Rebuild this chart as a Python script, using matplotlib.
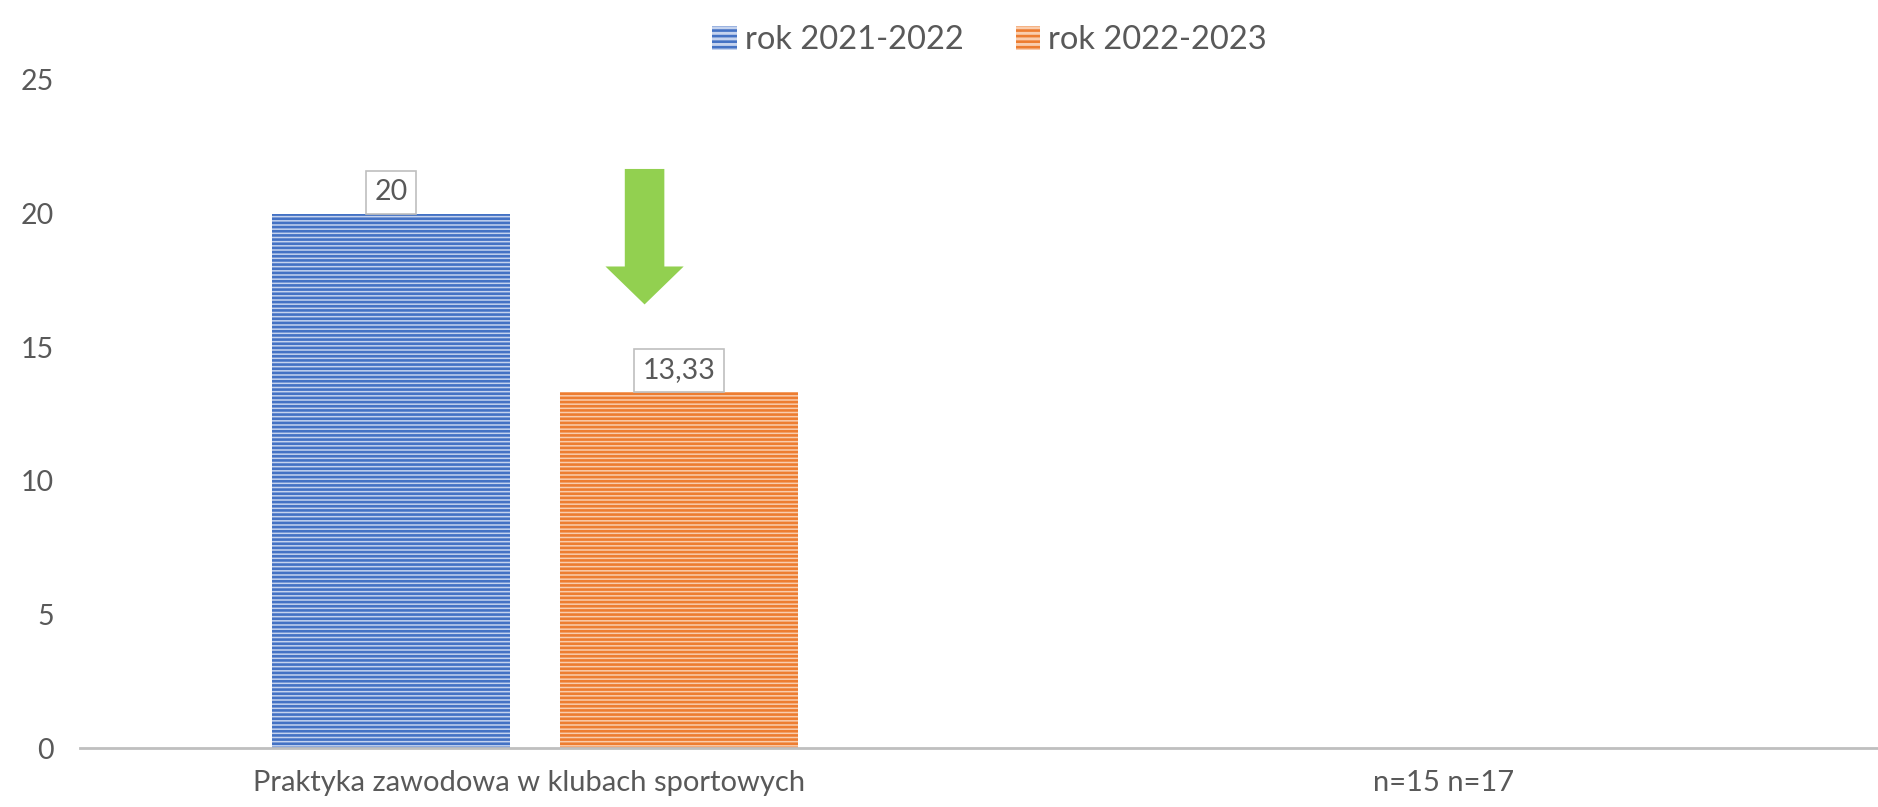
import matplotlib
matplotlib.use("Agg")
import matplotlib.pyplot as plt
from matplotlib.patches import Patch, FancyArrow
import numpy as np

plt.rcParams['font.family'] = ['Lato', 'DejaVu Sans']
plt.rcParams['hatch.linewidth'] = 1.9

categories = ["Praktyka zawodowa w klubach sportowych", "    n=15 n=17"]
series_names = ["rok 2021-2022", "rok 2022-2023"]
values_2122 = [20, np.nan]
values_2223 = [13.33, np.nan]
value_labels_2122 = ["20", ""]
value_labels_2223 = ["13,33", ""]
yticks = [0, 5, 10, 15, 20, 25]

blue = '#4472C4'
orange = '#ED7D31'
blue_light = '#C5D3EE'
orange_light = '#F9CDAE'
text_col = '#595959'

fig = plt.figure(figsize=(18.78, 8.07), dpi=100)
ax = fig.add_axes([0.0426, 0.0731, 0.9574, 0.8278])

x = np.arange(len(categories))
off = 0.16
width = 0.265
shift = 0.006  # excel draws the group a hair right of the label centre

b1 = ax.bar(x - off + shift, values_2122, width, facecolor=blue_light, edgecolor=blue,
            hatch='----', linewidth=0)
b2 = ax.bar(x + off + shift, values_2223, width, facecolor=orange_light, edgecolor=orange,
            hatch='----', linewidth=0)

box = dict(boxstyle='square,pad=0.3', facecolor='white', edgecolor='#BFBFBF', linewidth=1.2)
for bars, vals, labs in [(b1, values_2122, value_labels_2122), (b2, values_2223, value_labels_2223)]:
    for rect, v, lab in zip(bars, vals, labs):
        if lab == "":
            continue
        ax.annotate(lab, (rect.get_x() + rect.get_width() / 2, v), xytext=(0, 6),
                    textcoords='offset points', ha='center', va='bottom',
                    fontsize=20.5, color=text_col, bbox=box)

# green "decrease" arrow between the bars
arr = FancyArrow(0.128, 21.67, 0, -5.07, width=0.044, head_width=0.087,
                 head_length=1.42, length_includes_head=True,
                 facecolor='#92D050', edgecolor='none')
ax.add_patch(arr)

ax.set_xlim(-0.5, 1.5)
ax.set_ylim(0, 25)
ax.set_yticks(yticks)
ax.set_xticks(x)
ax.set_xticklabels(categories)
ax.tick_params(axis='y', length=0, pad=19, labelsize=20.5, labelcolor=text_col)
ax.tick_params(axis='x', length=0, pad=16, labelsize=21, labelcolor=text_col)
for s in ['top', 'right', 'left']:
    ax.spines[s].set_visible(False)
ax.spines['bottom'].set_color('#BFBFBF')
ax.spines['bottom'].set_linewidth(2)

handles = [Patch(facecolor=blue_light, edgecolor=blue, hatch='---', linewidth=0, label=series_names[0]),
           Patch(facecolor=orange_light, edgecolor=orange, hatch='---', linewidth=0, label=series_names[1])]
leg = fig.legend(handles=handles, loc='upper center', bbox_to_anchor=(0.527, 1.005), ncol=2,
                 frameon=False, fontsize=23.5, handlelength=0.75, handleheight=0.75,
                 handletextpad=0.25, columnspacing=1.6)
for t in leg.get_texts():
    t.set_color(text_col)

fig.savefig('out.png', dpi=100)
